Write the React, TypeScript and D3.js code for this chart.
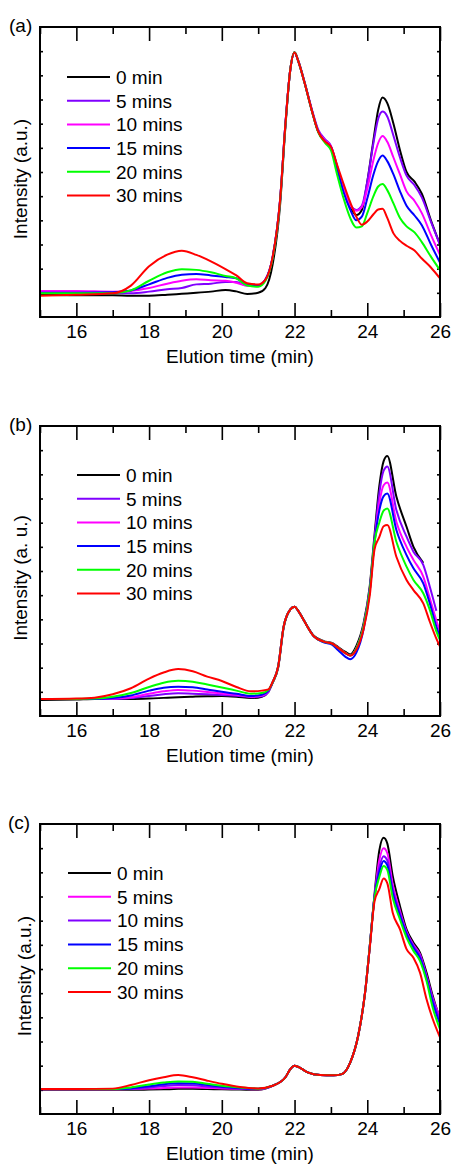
import React, { useRef, useEffect } from "react";
import * as d3 from "d3";

const W = 455;
const H = 1166;
const FONT = "'Liberation Sans', Arial, Helvetica, sans-serif";

const labelsAB = ["0 min", "5 mins", "10 mins", "15 mins", "20 mins", "30 mins"];
const colorsAB = ["#000000", "#8000ff", "#ff00ff", "#0000ff", "#00ff00", "#ff0000"];
const labelsC = ["0 min", "5 mins", "10 mins", "15 mins", "20 mins", "30 mins"];
const colorsC = ["#000000", "#ff00ff", "#8000ff", "#0000ff", "#00ff00", "#ff0000"];

const xMajor = [16, 18, 20, 22, 24, 26];
const xMinor = [15, 17, 19, 21, 23, 25];
const yTicks = [1, 2, 3, 4, 5, 6, 7, 8, 9, 10, 11];

// panel (a)
const timesA = [15, 16, 17, 17.5, 18, 18.5, 18.9, 19.3, 19.7, 20.1, 20.4, 20.7, 21.0,
  21.2, 21.4, 21.6, 21.75, 21.88, 22.0, 22.1, 22.28, 22.47, 22.65, 22.84, 23.0,
  23.17, 23.35, 23.53, 23.7, 23.85, 24.0, 24.17, 24.3, 24.42, 24.55, 24.72, 24.9, 25.08, 25.3, 25.5, 25.75, 26.0];
const a0 = [0.92, 0.9, 0.9, 0.88, 0.88, 0.92, 0.96, 1.0, 1.05, 1.12, 1.06, 0.95, 1.0,
  1.2, 2.2, 4.6, 7.9, 10.2, 10.95, 10.6, 9.67, 8.57, 7.67, 7.26, 7.05,
  6.22, 5.26, 4.57, 4.22, 4.43, 5.6, 7.32, 8.57, 9.08, 8.85, 8.0, 6.9, 6.0, 5.6, 5.1, 4.0, 3.0];
const a5 = [1.05, 1.05, 1.0, 0.98, 1.05, 1.15, 1.2, 1.35, 1.38, 1.45, 1.45, 1.3, 1.3,
  1.55, 2.5, 4.8, 8.0, 10.2, 10.95, 10.62, 9.7, 8.62, 7.75, 7.35, 7.08,
  6.25, 5.3, 4.65, 4.43, 4.6, 5.6, 7.2, 8.2, 8.5, 8.3, 7.5, 6.6, 5.85, 5.45, 4.95, 3.95, 2.98];
const a10 = [1.08, 1.08, 1.05, 1.08, 1.2, 1.38, 1.5, 1.56, 1.52, 1.5, 1.42, 1.3, 1.3,
  1.55, 2.5, 4.8, 8.0, 10.2, 10.95, 10.6, 9.67, 8.6, 7.7, 7.3, 7.06,
  6.22, 5.28, 4.62, 4.4, 4.55, 5.3, 6.5, 7.2, 7.49, 7.25, 6.6, 5.9, 5.2, 4.8, 4.3, 3.4, 2.57];
const a15 = [1.0, 1.0, 1.02, 1.1, 1.35, 1.62, 1.75, 1.78, 1.72, 1.66, 1.6, 1.35, 1.3,
  1.55, 2.5, 4.8, 8.0, 10.2, 10.95, 10.6, 9.67, 8.57, 7.67, 7.25, 7.03,
  6.15, 5.15, 4.45, 4.0, 4.15, 4.9, 5.9, 6.45, 6.68, 6.45, 5.9, 5.2, 4.6, 4.2, 3.8, 3.0, 2.25];
const a20 = [0.98, 0.98, 0.98, 1.1, 1.5, 1.85, 1.98, 1.95, 1.85, 1.7, 1.6, 1.3, 1.25,
  1.5, 2.45, 4.75, 7.95, 10.2, 10.95, 10.6, 9.67, 8.57, 7.65, 7.2, 6.9,
  5.9, 4.9, 4.1, 3.7, 3.75, 4.3, 5.0, 5.4, 5.5, 5.25, 4.7, 4.1, 3.75, 3.5, 3.1, 2.5, 1.94];
const a30 = [0.88, 0.92, 0.98, 1.3, 2.1, 2.58, 2.74, 2.57, 2.3, 1.98, 1.72, 1.4, 1.35,
  1.55, 2.5, 4.8, 8.0, 10.2, 10.95, 10.6, 9.67, 8.57, 7.67, 7.26, 7.05,
  6.3, 5.5, 4.75, 4.15, 3.82, 3.95, 4.25, 4.45, 4.48, 4.1, 3.46, 3.15, 2.95, 2.75, 2.42, 2.05, 1.6];

// panel (b)
const timesB = [15, 16, 16.5, 17, 17.5, 18, 18.4, 18.8, 19.2, 19.6, 20.0, 20.4, 20.8, 21.1, 21.28,
  21.4, 21.55, 21.7, 21.88, 22.0, 22.1, 22.25, 22.53, 22.8, 23.03, 23.2, 23.4, 23.53, 23.7, 23.9, 24.07, 24.2,
  24.33, 24.45, 24.55, 24.8, 25.08, 25.27, 25.54, 25.72, 25.9, 26.0];
const b0 = [0.66, 0.68, 0.7, 0.7, 0.7, 0.72, 0.75, 0.78, 0.8, 0.82, 0.83, 0.8, 0.74, 0.8, 1.0,
  1.38, 2.0, 3.65, 4.4, 4.52, 4.36, 3.98, 3.32, 3.1, 3.02, 2.85, 2.65, 2.55, 2.9, 3.85, 5.4, 7.5,
  9.5, 10.55, 10.76, 9.08, 7.83, 7.0, 6.34, null, null, null];
const b5 = [0.7, 0.7, 0.7, 0.7, 0.74, 0.83, 0.9, 0.94, 0.92, 0.9, 0.87, 0.84, 0.78, 0.82, 1.0,
  1.4, 2.05, 3.7, 4.4, 4.52, 4.35, 3.97, 3.3, 3.08, 3.0, 2.82, 2.6, 2.5, 2.8, 3.75, 5.3, 7.35,
  9.2, 10.15, 10.32, 8.52, 7.42, 6.8, 6.25, 5.35, 4.35, null];
const b10 = [0.7, 0.7, 0.7, 0.72, 0.78, 0.92, 1.02, 1.08, 1.05, 0.99, 0.93, 0.88, 0.8, 0.85, 1.03,
  1.4, 2.05, 3.7, 4.4, 4.52, 4.35, 3.97, 3.3, 3.08, 3.0, 2.82, 2.6, 2.5, 2.8, 3.7, 5.2, 7.2,
  8.8, 9.55, 9.66, 8.04, 7.0, 6.46, 5.77, 4.87, 3.95, 3.49];
const b15 = [0.7, 0.7, 0.7, 0.74, 0.85, 1.05, 1.17, 1.21, 1.19, 1.1, 1.0, 0.92, 0.83, 0.88, 1.05,
  1.4, 2.05, 3.7, 4.4, 4.52, 4.35, 3.97, 3.3, 3.05, 2.95, 2.72, 2.45, 2.35, 2.62, 3.6, 5.2, 7.2,
  8.5, 9.1, 9.21, 7.7, 6.66, 6.11, 5.49, 4.66, 3.7, 3.28];
const b20 = [0.7, 0.7, 0.72, 0.8, 0.95, 1.2, 1.38, 1.46, 1.42, 1.3, 1.18, 1.05, 0.92, 0.95, 1.08,
  1.4, 2.05, 3.7, 4.4, 4.52, 4.35, 3.97, 3.3, 3.08, 3.0, 2.82, 2.6, 2.5, 2.8, 3.7, 5.2, 7.2,
  8.0, 8.5, 8.59, 7.21, 6.18, 5.63, 5.08, 4.39, 3.5, 3.14];
const b30 = [0.7, 0.72, 0.76, 0.9, 1.15, 1.55, 1.8, 1.94, 1.85, 1.63, 1.45, 1.2, 1.02, 1.05, 1.1,
  1.42, 2.05, 3.7, 4.4, 4.52, 4.35, 3.97, 3.3, 3.08, 3.0, 2.82, 2.6, 2.5, 2.75, 3.6, 5.0, 6.9,
  7.4, 7.85, 7.9, 6.59, 5.63, 5.21, 4.66, 3.9, 3.2, 2.87];

// panel (c)
const timesC = [15, 16, 17, 17.5, 18, 18.4, 18.8, 19.2, 19.6, 20.0, 20.5, 21.0,
  21.4, 21.75, 21.88, 22.0, 22.1, 22.36, 22.7, 23.07, 23.3, 23.53, 23.75, 23.94, 24.07, 24.2,
  24.33, 24.45, 24.55, 24.7, 24.9, 25.08, 25.27, 25.45, 25.63, 25.8, 26.0];
const c0 = [1.0, 1.0, 1.0, 1.0, 1.01, 1.02, 1.04, 1.04, 1.03, 1.02, 1.01, 1.0,
  1.17, 1.52, 1.85, 2.0, 1.95, 1.72, 1.61, 1.6, 1.65, 2.13, 3.24, 5.03, 6.96, 9.1,
  10.9, 11.43, 11.2, 9.85, 8.6, 7.64, 7.09, 6.68, 5.85, 4.89, 3.93];
const c5 = [1.02, 1.02, 1.02, 1.03, 1.05, 1.08, 1.1, 1.1, 1.08, 1.06, 1.04, 1.02,
  1.17, 1.52, 1.85, 2.0, 1.95, 1.72, 1.61, 1.6, 1.65, 2.13, 3.24, 5.03, 6.96, 9.02,
  10.5, 11.0, 10.8, 9.5, 8.4, 7.55, 7.0, 6.6, 5.72, 4.8, 3.99];
const c10 = [1.03, 1.03, 1.03, 1.04, 1.1, 1.16, 1.2, 1.19, 1.14, 1.1, 1.05, 1.03,
  1.17, 1.52, 1.85, 2.0, 1.95, 1.72, 1.61, 1.6, 1.65, 2.13, 3.24, 5.03, 6.96, 9.02,
  10.2, 10.67, 10.5, 9.3, 8.3, 7.5, 6.95, 6.55, 5.68, 4.75, 3.86];
const c15 = [1.03, 1.03, 1.03, 1.06, 1.15, 1.23, 1.27, 1.26, 1.2, 1.13, 1.07, 1.04,
  1.17, 1.52, 1.85, 2.0, 1.95, 1.72, 1.61, 1.6, 1.65, 2.13, 3.24, 5.03, 6.96, 9.0,
  10.0, 10.47, 10.3, 9.16, 8.2, 7.44, 6.88, 6.45, 5.6, 4.6, 3.72];
const c20 = [1.03, 1.03, 1.03, 1.1, 1.22, 1.3, 1.35, 1.33, 1.25, 1.17, 1.1, 1.05,
  1.17, 1.52, 1.85, 2.0, 1.95, 1.72, 1.61, 1.6, 1.65, 2.13, 3.24, 5.03, 6.96, 8.95,
  9.8, 10.26, 10.1, 8.95, 8.05, 7.3, 6.75, 6.34, 5.5, 4.4, 3.51];
const c30 = [1.03, 1.03, 1.05, 1.2, 1.4, 1.52, 1.61, 1.52, 1.38, 1.25, 1.12, 1.06,
  1.17, 1.52, 1.85, 2.0, 1.95, 1.72, 1.61, 1.6, 1.65, 2.13, 3.24, 5.03, 6.9, 8.8,
  9.3, 9.74, 9.55, 8.33, 7.64, 6.82, 6.47, 5.85, 4.75, 3.93, 3.17];

const panels = [
  {
    top: 27, tag: "(a)", tagX: 9, yLabel: "Intensity (a.u.)", yLabelX: 20,
    times: timesA, series: [a0, a5, a10, a15, a20, a30], labels: labelsAB, colors: colorsAB,
    legX: 67, legY: 50, legStep: 23.7,
  },
  {
    top: 426, tag: "(b)", tagX: 9, yLabel: "Intensity (a. u.)", yLabelX: 20,
    times: timesB, series: [b0, b5, b10, b15, b20, b30], labels: labelsAB, colors: colorsAB,
    legX: 77, legY: 49, legStep: 23.7,
  },
  {
    top: 824, tag: "(c)", tagX: 8, yLabel: "Intensity (a.u.)", yLabelX: 24,
    times: timesC, series: [c0, c5, c10, c15, c20, c30], labels: labelsC, colors: colorsC,
    legX: 68, legY: 49, legStep: 23.8,
  },
];

const App = () => {
  const svgRef = useRef<SVGSVGElement>(null);

  useEffect(() => {
    const svg = d3.select(svgRef.current);
    svg.selectAll("*").remove();

    const left = 40, right = 440, ph = 290;

    panels.forEach((p) => {
      const g = svg.append("g");
      const bottom = p.top + ph;
      const x = d3.scaleLinear().domain([15, 26]).range([left, right]);
      const y = d3.scaleLinear().domain([0, 12]).range([bottom, p.top]);

      // axes (ticks point inward)
      const styleAxis = (sel: any) => {
        sel.select(".domain").remove();
        sel.selectAll("line").attr("stroke", "#000").attr("stroke-width", 1.6);
        sel.selectAll("text").attr("font-family", FONT).attr("font-size", 19).attr("fill", "#000");
      };
      g.append("g").attr("transform", `translate(0,${bottom})`)
        .call(d3.axisBottom(x).tickValues(xMajor).tickSize(-14).tickPadding(8).tickFormat(d3.format("d")))
        .call(styleAxis);
      g.append("g").attr("transform", `translate(0,${bottom})`)
        .call(d3.axisBottom(x).tickValues(xMinor).tickSize(-7).tickFormat(() => ""))
        .call(styleAxis);
      g.append("g").attr("transform", `translate(0,${p.top})`)
        .call(d3.axisTop(x).tickValues(xMajor).tickSize(-14).tickFormat(() => ""))
        .call(styleAxis);
      g.append("g").attr("transform", `translate(0,${p.top})`)
        .call(d3.axisTop(x).tickValues(xMinor).tickSize(-7).tickFormat(() => ""))
        .call(styleAxis);
      g.append("g").attr("transform", `translate(${left},0)`)
        .call(d3.axisLeft(y).tickValues(yTicks).tickSize(-3).tickFormat(() => ""))
        .call(styleAxis);
      g.append("g").attr("transform", `translate(${right},0)`)
        .call(d3.axisRight(y).tickValues(yTicks).tickSize(-3).tickFormat(() => ""))
        .call(styleAxis);

      // curves
      p.series.forEach((vals, si) => {
        const line = d3.line<number | null>()
          .defined((v) => v != null)
          .x((v, i) => x(p.times[i]))
          .y((v) => y(v as number))
          .curve(d3.curveMonotoneX);
        g.append("path")
          .attr("d", line(vals as (number | null)[]))
          .attr("fill", "none")
          .attr("stroke", p.colors[si])
          .attr("stroke-width", 2)
          .attr("stroke-linejoin", "round");
      });

      // frame
      g.append("rect")
        .attr("x", left).attr("y", p.top)
        .attr("width", right - left).attr("height", ph)
        .attr("fill", "none").attr("stroke", "#000").attr("stroke-width", 2);

      // legend
      p.labels.forEach((lab, i) => {
        const ly = p.top + p.legY + i * p.legStep;
        g.append("line")
          .attr("x1", p.legX).attr("x2", p.legX + 43)
          .attr("y1", ly).attr("y2", ly)
          .attr("stroke", p.colors[i]).attr("stroke-width", 2);
        g.append("text")
          .attr("x", p.legX + 49).attr("y", ly + 6.8)
          .attr("font-family", FONT).attr("font-size", 19)
          .text(lab);
      });

      // labels
      g.append("text")
        .attr("x", 240).attr("y", bottom + 46)
        .attr("text-anchor", "middle")
        .attr("font-family", FONT).attr("font-size", 19)
        .text("Elution time (min)");
      g.append("text")
        .attr("transform", `translate(${p.yLabelX + 7},${p.top + 152}) rotate(-90)`)
        .attr("text-anchor", "middle")
        .attr("font-family", FONT).attr("font-size", 19)
        .text(p.yLabel);
      g.append("text")
        .attr("x", p.tagX).attr("y", p.top + 5)
        .attr("font-family", FONT).attr("font-size", 19)
        .text(p.tag);
    });
  }, []);

  return (
    <svg
      ref={svgRef}
      width={W}
      height={H}
      style={{ position: "absolute", left: 0, top: 0, background: "#fff", display: "block" }}
    />
  );
};

export default App;
